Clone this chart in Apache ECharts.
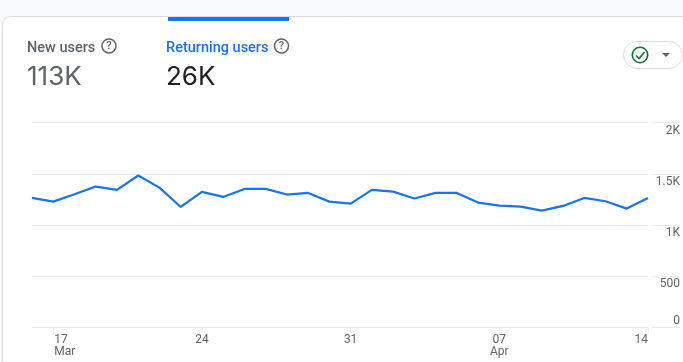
<!DOCTYPE html>
<html>
<head>
<meta charset="utf-8">
<style>
  html, body { margin: 0; padding: 0; background: #f8f9fa; }
  #main { width: 683px; height: 362px; }
</style>
<script src="https://cdn.jsdelivr.net/npm/echarts@6/dist/echarts.min.js"></script>
</head>
<body>
<div id="main"></div>
<script>
// one point per day, 16 Mar to 14 Apr
var days = ["16","17","18","19","20","21","22","23","24","25","26","27","28","29","30",
  "31","01","02","03","04","05","06","07","08","09","10","11","12","13","14"];
var returningUsers = [1264,1228,1300,1375,1343,1483,1365,1176,1323,1274,1352,1352,1297,1313,1228,
  1209,1343,1326,1258,1313,1313,1219,1189,1180,1140,1186,1264,1232,1160,1264];
var shownDays = {1: "first", 8: "mid", 15: "mid", 22: "mid", 29: "last"};
var monthLabels = {1: "Mar", 22: "Apr"};
var yTicks = {0: "0", 500: "500", 1000: "1K", 1500: "1.5K", 2000: "2K"};

var FONT = "Roboto, sans-serif";
var BIG_FONT = "Inter, Roboto, sans-serif";
var GREY = "#5f6368";
var BLUE = "#1a73e8";
var LINE = "#e8eaed";

var myChart = echarts.init(document.getElementById("main"));

function helpIcon(cx, cy) {
  return [
    { type: "circle", z: 5, shape: { cx: cx, cy: cy, r: 7 }, style: { fill: "none", stroke: GREY, lineWidth: 1.5 } },
    { type: "text", z: 5, x: cx, y: cy + 0.5, style: { text: "?", fill: GREY, font: "500 11px " + FONT, align: "center", verticalAlign: "middle" } }
  ];
}

var option = {
  backgroundColor: "#f8f9fa",
  animation: false,
  grid: [
    { left: 32, right: 35, top: 122.5, bottom: 34.5 },
    { left: 652, right: -3, top: 122.5, bottom: 34.5 }
  ],
  xAxis: [
    {
      type: "category",
      gridIndex: 0,
      data: days,
      boundaryGap: false,
      axisLine: { lineStyle: { color: LINE, width: 1 } },
      axisTick: {
        length: 5,
        lineStyle: { color: LINE },
        interval: function (i) { return !!shownDays[i]; }
      },
      axisLabel: {
        interval: function (i) { return !!shownDays[i]; },
        margin: 6,
        hideOverlap: false,
        color: GREY,
        fontFamily: FONT,
        fontSize: 12,
        lineHeight: 11,
        formatter: function (v, i) {
          var kind = shownDays[i];
          var month = monthLabels[i];
          var top = "{" + kind + "|" + v + "}";
          return month ? top + "\n{" + kind + "|" + month + "}" : top;
        },
        rich: {
          first: { width: 24, align: "left", padding: [0, 0, 0, 26], color: GREY, fontFamily: FONT, fontSize: 12, lineHeight: 12 },
          mid: { color: GREY, fontFamily: FONT, fontSize: 12, lineHeight: 12 },
          last: { width: 14, align: "right", padding: [0, 14, 0, 0], color: GREY, fontFamily: FONT, fontSize: 12, lineHeight: 12 }
        }
      }
    },
    { type: "category", gridIndex: 1, data: ["", ""], boundaryGap: false,
      axisLine: { lineStyle: { color: LINE } }, axisTick: { show: false }, axisLabel: { show: false } }
  ],
  yAxis: [
    {
      type: "value",
      gridIndex: 0,
      min: 0,
      max: 2000,
      interval: 500,
      axisLine: { show: false },
      axisTick: { show: false },
      axisLabel: { show: false },
      splitLine: { lineStyle: { color: LINE, width: 1 } }
    },
    {
      type: "value",
      gridIndex: 1,
      min: 0,
      max: 2000,
      interval: 500,
      position: "right",
      axisLine: { show: false },
      axisTick: { show: false },
      splitLine: { lineStyle: { color: LINE, width: 1 } },
      axisLabel: {
        inside: true,
        margin: 0,
        align: "right",
        verticalAlign: "top",
        verticalAlignMinLabel: "bottom",
        padding: [2, 0, 1, 0],
        color: GREY,
        fontFamily: FONT,
        fontSize: 12,
        formatter: function (v) { return yTicks[v]; }
      }
    }
  ],
  series: [
    {
      name: "Returning users",
      type: "line",
      xAxisIndex: 0,
      yAxisIndex: 0,
      data: returningUsers,
      symbol: "none",
      lineStyle: { color: BLUE, width: 2.2 },
      z: 5
    }
  ],
  graphic: {
    elements: [
      // card behind the plot
      { type: "rect", z: -10, silent: true, shape: { x: 2.5, y: 16.5, width: 720, height: 400, r: 8 },
        style: { fill: "#fff", stroke: "#dadce0", lineWidth: 1 } },
      { type: "rect", z: 5, shape: { x: 168, y: 17, width: 121, height: 4 }, style: { fill: BLUE } },
      { type: "text", z: 5, x: 27, y: 48, style: { text: "New users", fill: GREY, font: "500 14.5px " + FONT, verticalAlign: "middle" } },
      { type: "text", z: 5, x: 27, y: 77, style: { text: "113K", fill: GREY, font: "400 26px " + BIG_FONT, verticalAlign: "middle" } },
      { type: "text", z: 5, x: 166, y: 48, style: { text: "Returning users", fill: BLUE, font: "500 14.5px " + FONT, verticalAlign: "middle" } },
      { type: "text", z: 5, x: 166, y: 77, style: { text: "26K", fill: "#202124", font: "400 26px " + BIG_FONT, verticalAlign: "middle" } }
    ].concat(helpIcon(109, 46), helpIcon(281.5, 46), [
      // status pill
      { type: "rect", z: 5, shape: { x: 623.5, y: 41.5, width: 59, height: 27, r: 13.5 }, style: { fill: "#fff", stroke: "#dadce0", lineWidth: 1 } },
      { type: "circle", z: 5, shape: { cx: 640, cy: 55, r: 7.7 }, style: { fill: "#fff", stroke: "#137333", lineWidth: 1.6 } },
      { type: "polyline", z: 5, shape: { points: [[636, 55.5], [639, 58.5], [644.5, 52]] }, style: { fill: "none", stroke: "#137333", lineWidth: 1.6 } },
      { type: "polygon", z: 5, shape: { points: [[662, 53], [670, 53], [666, 57]] }, style: { fill: GREY } }
    ])
  }
};
myChart.setOption(option);
window.addEventListener("resize", function () {
  myChart.resize();
});
</script>
</body>
</html>
